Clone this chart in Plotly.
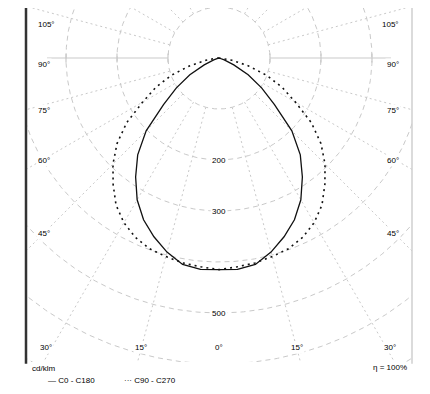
import numpy as np
import plotly.graph_objects as go

# ---------------- data ----------------
GAMMA = [0, 5, 10, 15, 20, 25, 30, 35, 40, 45, 50, 55, 60, 65, 70, 75, 80, 85, 90]
I_C0_C180 = [415, 416, 411, 394, 373, 350, 321, 285, 248, 202, 142, 102, 66, 32, 11, 4, 1, 0, 0]
I_C90_C270 = [415, 411, 408, 403, 398, 388, 373, 352, 323, 294, 261, 221, 173, 137, 100, 60, 26, 8, 0]

RING_VALUES = [100, 200, 300, 400, 500, 600, 700]
RING_LABELS = ["", "200", "300", "", "500", "", ""]
SPOKE_ANGLES = [15, 30, 45, 60, 75, 105, 120, 135, 150, 165]
SIDE_LABELS = ["105°", "90°", "75°", "60°", "45°"]
BOTTOM_LABELS = ["30°", "15°", "0°", "15°", "30°"]
UNIT_TEXT = "cd/klm"
ETA_TEXT = "η = 100%"
LEGEND = ["C0 - C180", "C90 - C270"]

# ---------------- geometry (page has an 8px body margin) ----------------
OFF = 8
W, H = 430 - OFF, 394 - OFF
FL, FR, FT, FB = 26 - OFF, 412 - OFF, 0, 362 - OFF   # plot frame in figure px
OX, OY = 219 - OFF, 58 - OFF                          # origin in figure px
PX_PER_100 = 51.0
k = 100.0 / PX_PER_100
xr = [(FL - OX) * k, (FR - OX) * k]
yr = [-(FB - OY) * k, (OY - FT) * k]


def paper(sx, sy):
    """screen px -> paper coords"""
    fx, fy = sx - OFF, sy - OFF
    return (fx - FL) / (FR - FL), (FB - fy) / (FB - FT)


GRID = "#c9c9c9"
fig = go.Figure()

# rings
th = np.linspace(0, 2 * np.pi, 721)
for rv in RING_VALUES:
    fig.add_trace(go.Scatter(x=rv * np.sin(th), y=rv * np.cos(th), mode="lines",
                             line=dict(color=GRID, width=1, dash="5px,4px"),
                             hoverinfo="skip"))

# spokes
for g in SPOKE_ANGLES:
    gr = np.radians(g)
    for s in (-1, 1):
        rr = np.array([RING_VALUES[0], 1200])
        fig.add_trace(go.Scatter(x=s * rr * np.sin(gr), y=-rr * np.cos(gr), mode="lines",
                                 line=dict(color=GRID, width=1, dash="2px,3px"),
                                 hoverinfo="skip"))

# 90 deg axis with ticks
x_end = (47 - 219) * k
for s in (-1, 1):
    fig.add_trace(go.Scatter(x=[s * RING_VALUES[0], s * abs(x_end)], y=[0, 0], mode="lines",
                             line=dict(color=GRID, width=1.2), hoverinfo="skip"))
    for rv in RING_VALUES[:3]:
        fig.add_trace(go.Scatter(x=[s * rv, s * rv], y=[-9, 9], mode="lines",
                                 line=dict(color=GRID, width=1.2), hoverinfo="skip"))

# curves
g = np.radians(np.array(GAMMA, dtype=float))


def full_curve(vals):
    v = np.array(vals, dtype=float)
    x = np.concatenate([-(v * np.sin(g))[::-1], (v * np.sin(g))[1:]])
    y = np.concatenate([-(v * np.cos(g))[::-1], -(v * np.cos(g))[1:]])
    return x, y


x1, y1 = full_curve(I_C0_C180)
x2, y2 = full_curve(I_C90_C270)
fig.add_trace(go.Scatter(x=x2, y=y2, mode="lines", line=dict(color="#111", width=1.6, dash="2px,4px"),
                         hoverinfo="skip"))
fig.add_trace(go.Scatter(x=x1, y=y1, mode="lines", line=dict(color="#111", width=1.3),
                         hoverinfo="skip"))

# annotations
FONT = dict(family="Liberation Sans, Arial, sans-serif", size=8, color="#000")
ann = []
side_y = [18, 58, 104, 160, 233]
for lab, sy in zip(SIDE_LABELS, side_y):
    for sx in (36, 401):
        xp, yp = paper(sx, sy)
        ann.append(dict(x=xp, y=yp, xref="paper", yref="paper", text=lab, showarrow=False,
                        font=FONT, bgcolor="white"))
bottom_x = [38, 133, 219, 305, 398]
for lab, sx in zip(BOTTOM_LABELS, bottom_x):
    xp, yp = paper(sx, 354)
    ann.append(dict(x=xp, y=yp, xref="paper", yref="paper", text=lab, showarrow=False,
                    font=FONT, bgcolor="white"))
for rv, lab in zip(RING_VALUES, RING_LABELS):
    if lab:
        ann.append(dict(x=0, y=-rv, xref="x", yref="y", text=lab, showarrow=False,
                        font=FONT, bgcolor="white"))
xp, yp = paper(30, 375)
ann.append(dict(x=xp, y=yp, xref="paper", yref="paper", text=UNIT_TEXT, showarrow=False,
                font=FONT, xanchor="left"))
xp, yp = paper(409, 374)
ann.append(dict(x=xp, y=yp, xref="paper", yref="paper", text=ETA_TEXT, showarrow=False,
                font=FONT, xanchor="right"))
xp, yp = paper(46, 387)
ann.append(dict(x=xp, y=yp, xref="paper", yref="paper", text="\u2014 " + LEGEND[0], showarrow=False,
                font=FONT, xanchor="left"))
xp, yp = paper(122, 387)
ann.append(dict(x=xp, y=yp, xref="paper", yref="paper", text="\u00b7\u00b7\u00b7 " + LEGEND[1],
                showarrow=False, font=FONT, xanchor="left"))

shapes = [
    dict(type="line", xref="paper", yref="paper", x0=0, x1=0, y0=-0.005, y1=1.0,
         line=dict(color="#333", width=2.5)),
    dict(type="line", xref="paper", yref="paper", x0=1, x1=1, y0=-0.005, y1=1.0,
         line=dict(color="#cfcfcf", width=1.5)),
]

fig.update_layout(
    width=W, height=H, margin=dict(l=FL, r=W - FR, t=FT, b=H - FB),
    paper_bgcolor="white", plot_bgcolor="white", showlegend=False,
    xaxis=dict(range=xr, visible=False, fixedrange=True),
    yaxis=dict(range=yr, visible=False, fixedrange=True),
    annotations=ann, shapes=shapes,
)
fig.write_html("out.html", config={"displayModeBar": False})
